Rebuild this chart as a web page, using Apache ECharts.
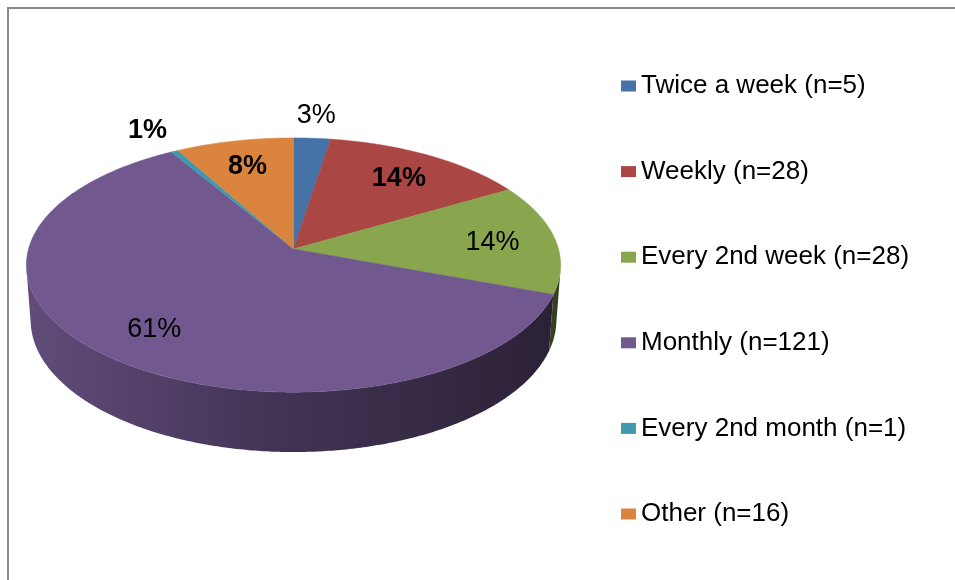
<!DOCTYPE html>
<html>
<head>
<meta charset="utf-8">
<script src="https://cdn.jsdelivr.net/npm/echarts@6/dist/echarts.min.js"></script>
<style>
  html, body { margin: 0; padding: 0; background: #fff; }
  #chart { width: 955px; height: 580px; }
</style>
</head>
<body>
<div id="chart"></div>
<script>
// data
const categories = ['Twice a week (n=5)', 'Weekly (n=28)', 'Every 2nd week (n=28)', 'Monthly (n=121)', 'Every 2nd month (n=1)', 'Other (n=16)'];
const counts = [5, 28, 28, 121, 1, 16];

// styling
const colors = ['#4572A7', '#AA4643', '#89A54E', '#71588F', '#4198AF', '#DB843D'];
const labelWeights = ['normal', 'bold', 'normal', 'normal', 'bold', 'bold'];

// 3d pie camera: center on screen, scale, tilt, camera distance, thickness (radius units)
const view = { cx: 293.5, cy: 249, k: 265, tilt: 0.4917, dist: 6.99, thick: 0.238 };

const total = counts.reduce((a, b) => a + b, 0);
let acc = 0;
const spans = counts.map(v => {
  const f0 = acc / total;
  acc += v;
  return [f0, acc / total];
});

const toPhi = f => -Math.PI / 2 + 2 * Math.PI * f;

function proj(X, Y, Z) {
  const ca = Math.cos(view.tilt), sa = Math.sin(view.tilt);
  const depth = Z * ca + Y * sa;
  const up = Y * ca - Z * sa;
  const s = view.dist / (view.dist - depth);
  return [view.cx + view.k * X * s, view.cy - view.k * up * s];
}

function arc(a, b, y) {
  const n = Math.max(2, Math.ceil((b - a) / 0.01));
  const pts = [];
  for (let i = 0; i <= n; i++) {
    const p = a + (b - a) * i / n;
    pts.push(proj(Math.cos(p), y, Math.sin(p)));
  }
  return pts;
}

function shade(hex, f) {
  const n = parseInt(hex.slice(1), 16);
  const r = Math.round(((n >> 16) & 255) * f);
  const g = Math.round(((n >> 8) & 255) * f);
  const b = Math.round((n & 255) * f);
  return 'rgb(' + r + ',' + g + ',' + b + ')';
}

// side is visible where the cylinder wall faces the camera
const visFrom = Math.asin(1 / (view.dist * Math.cos(view.tilt)));
const visTo = Math.PI - visFrom;
const leftX = view.cx - view.k * 1.01, rightX = view.cx + view.k * 1.01;

function makeRender(i) {
  return function (params, api) {
    const value = api.value(0);
    const [f0, f1] = spans[i];
    const p0 = toPhi(f0), p1 = toPhi(f1);
    const children = [];

    const lo = Math.max(p0, visFrom), hi = Math.min(p1, visTo);
    if (hi > lo) {
      const side = arc(lo, hi, 0).concat(arc(lo, hi, -view.thick).reverse());
      children.push({
        type: 'polygon',
        z2: 1,
        shape: { points: side },
        style: {
          fill: new echarts.graphic.LinearGradient(leftX, 0, rightX, 0, [
            { offset: 0, color: shade(colors[i], 0.86) },
            { offset: 0.5, color: shade(colors[i], 0.57) },
            { offset: 1, color: shade(colors[i], 0.38) }
          ], true)
        }
      });
    }

    const top = [proj(0, 0, 0)].concat(arc(p0, p1, 0));
    children.push({
      type: 'polygon',
      z2: 5,
      shape: { points: top },
      style: { fill: colors[i], stroke: colors[i], lineWidth: 0.5 }
    });

    const frac = value / total;
    const mid = toPhi((f0 + f1) / 2);
    const r = frac < 0.05 ? 1.26 : 0.76;
    const pos = proj(r * Math.cos(mid), 0, r * Math.sin(mid));
    children.push({
      type: 'text',
      z2: 10,
      x: pos[0],
      y: pos[1] + 2,
      style: {
        text: Math.round(frac * 100) + '%',
        fontFamily: 'Liberation Sans',
        fontSize: 27,
        fontWeight: labelWeights[i],
        fill: '#000',
        align: 'center',
        verticalAlign: 'middle'
      }
    });

    return { type: 'group', children: children };
  };
}

const chart = echarts.init(document.getElementById('chart'), null, { renderer: 'canvas' });

chart.setOption({
  animation: false,
  backgroundColor: '#fff',
  graphic: [{
    type: 'rect',
    shape: { x: 8, y: 8, width: 1200, height: 1200 },
    style: { fill: 'none', stroke: '#8a8a8a', lineWidth: 2 },
    silent: true
  }],
  legend: {
    orient: 'vertical',
    left: 616,
    top: 68,
    icon: 'rect',
    itemWidth: 15,
    itemHeight: 11,
    itemGap: 59.6,
    selectedMode: false,
    data: categories,
    textStyle: {
      fontFamily: 'Liberation Sans',
      fontSize: 26,
      lineHeight: 26,
      color: '#000'
    }
  },
  series: categories.map((name, i) => ({
    name: name,
    type: 'custom',
    coordinateSystem: 'none',
    color: colors[i],
    itemStyle: { color: colors[i] },
    data: [counts[i]],
    renderItem: makeRender(i)
  }))
});
</script>
</body>
</html>
